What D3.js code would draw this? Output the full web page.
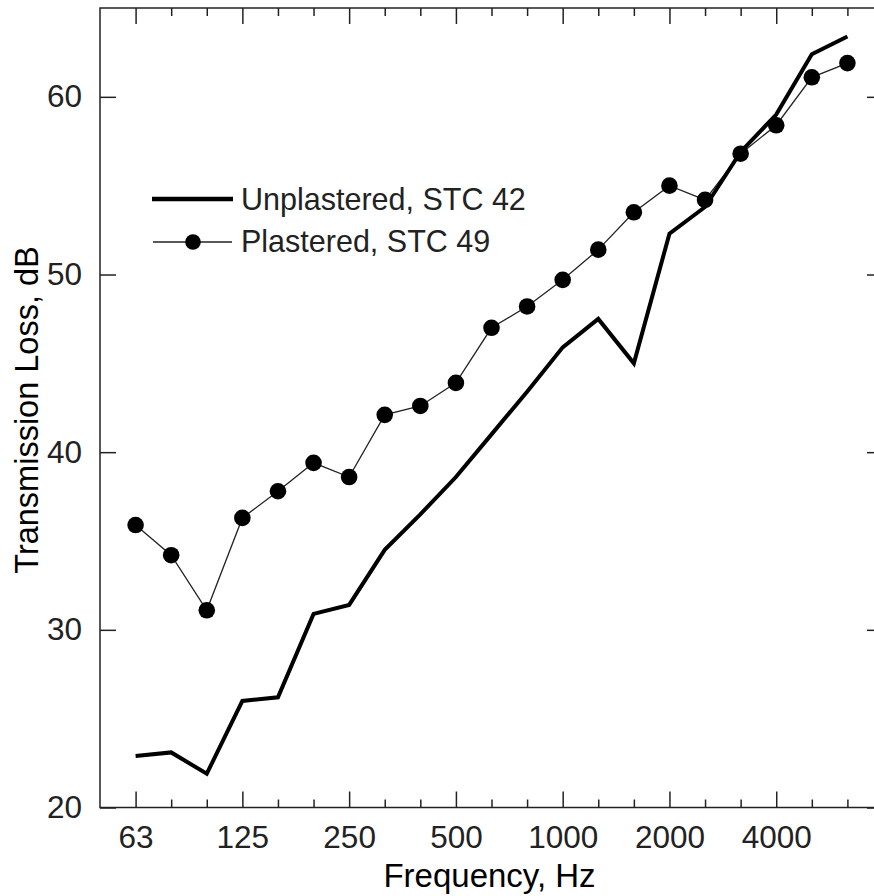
<!DOCTYPE html>
<html>
<head>
<meta charset="utf-8">
<script src="https://cdn.jsdelivr.net/npm/d3@7"></script>
<style>
body{margin:0;background:#fff}
text{font-family:Arial,"Liberation Sans",sans-serif}
</style>
</head>
<body>
<svg></svg>
<script>
// 1/3 octave bands
var bands=["63","80","100","125","160","200","250","315","400","500","630","800","1000","1250","1600","2000","2500","3150","4000","5000","6300"]
var majorBands=["63","125","250","500","1000","2000","4000"]
var unplastered=[22.9,23.1,21.9,26.0,26.2,30.9,31.4,34.5,36.5,38.6,41.0,43.4,45.9,47.5,45.0,52.3,53.8,56.9,59.0,62.4,63.4]
var plastered=[35.9,34.2,31.1,36.3,37.8,39.4,38.6,42.1,42.6,43.9,47.0,48.2,49.7,51.4,53.5,55.0,54.2,56.8,58.4,61.1,61.9]
var yTicks=[20,30,40,50,60]
var seriesNames=["Unplastered, STC 42","Plastered, STC 49"]

var svg=d3.select("svg").attr("width",874).attr("height",896)

var x=d3.scalePoint()
  .domain(bands)
  .range([100,883])
  .padding(1)

var y=d3.scaleLinear()
  .domain([20,65])
  .range([807.5,8])

var minorBands=bands.filter(b=>majorBands.indexOf(b)<0)
var yBottom=y.range()[0], yTop=y.range()[1]
var xLeft=x.range()[0], xRight=x.range()[1]

function styleAxis(g){
  g.select(".domain").remove()
  g.selectAll("line").attr("stroke","#222").attr("stroke-width",1.5)
  g.selectAll("text").attr("font-size",31.5).attr("fill","#222").attr("font-family","Arial, 'Liberation Sans', sans-serif")
}

svg.append("g").attr("transform","translate(0,"+yBottom+")")
  .call(d3.axisBottom(x).tickValues(majorBands).tickSizeInner(-16).tickSizeOuter(0).tickPadding(18))
  .call(styleAxis)
svg.append("g").attr("transform","translate(0,"+yBottom+")")
  .call(d3.axisBottom(x).tickValues(minorBands).tickSizeInner(-8).tickSizeOuter(0).tickFormat(""))
  .call(styleAxis)
svg.append("g").attr("transform","translate(0,"+yTop+")")
  .call(d3.axisTop(x).tickValues(majorBands).tickSizeInner(-16).tickSizeOuter(0).tickFormat(""))
  .call(styleAxis)
svg.append("g").attr("transform","translate(0,"+yTop+")")
  .call(d3.axisTop(x).tickValues(minorBands).tickSizeInner(-8).tickSizeOuter(0).tickFormat(""))
  .call(styleAxis)
svg.append("g").attr("transform","translate("+xLeft+",0)")
  .call(d3.axisLeft(y).tickValues(yTicks).tickSizeInner(-16).tickSizeOuter(0).tickPadding(18))
  .call(styleAxis)
svg.append("g").attr("transform","translate("+xRight+",0)")
  .call(d3.axisRight(y).tickValues(yTicks).tickSizeInner(-16).tickSizeOuter(0).tickFormat(""))
  .call(styleAxis)

svg.append("rect")
  .attr("x",xLeft).attr("y",yTop)
  .attr("width",xRight-xLeft).attr("height",yBottom-yTop)
  .attr("fill","none").attr("stroke","#222").attr("stroke-width",1.5)

var line=d3.line()
  .x((d,i)=>x(bands[i]))
  .y(d=>y(d))

svg.append("path")
  .datum(plastered)
  .attr("d",line)
  .attr("fill","none")
  .attr("stroke","#222")
  .attr("stroke-width",1.3)

svg.selectAll("circle.pl")
  .data(plastered)
  .enter()
  .append("circle")
  .attr("class","pl")
  .attr("cx",(d,i)=>x(bands[i]))
  .attr("cy",d=>y(d))
  .attr("r",8.3)
  .attr("fill","#000")

svg.append("path")
  .datum(unplastered)
  .attr("d",line)
  .attr("fill","none")
  .attr("stroke","#000")
  .attr("stroke-width",4)

// legend
var lg=svg.append("g")
lg.append("line").attr("x1",152).attr("x2",233).attr("y1",199).attr("y2",199)
  .attr("stroke","#000").attr("stroke-width",4.5)
lg.append("line").attr("x1",153).attr("x2",232).attr("y1",242).attr("y2",242)
  .attr("stroke","#222").attr("stroke-width",1.3)
lg.append("circle").attr("cx",193).attr("cy",242).attr("r",7.8).attr("fill","#000")
lg.selectAll("text")
  .data(seriesNames)
  .enter()
  .append("text")
  .attr("x",241)
  .attr("y",(d,i)=>210+i*42)
  .attr("font-size",30.5)
  .attr("fill","#222")
  .text(d=>d)

svg.append("text")
  .attr("x",(xLeft+xRight)/2-2)
  .attr("y",887)
  .attr("text-anchor","middle")
  .attr("font-size",33)
  .attr("fill","#000")
  .text("Frequency, Hz")

svg.append("text")
  .attr("transform","translate(38,410) rotate(-90)")
  .attr("text-anchor","middle")
  .attr("font-size",32.5)
  .attr("fill","#000")
  .text("Transmission Loss, dB")
</script>
</body>
</html>
